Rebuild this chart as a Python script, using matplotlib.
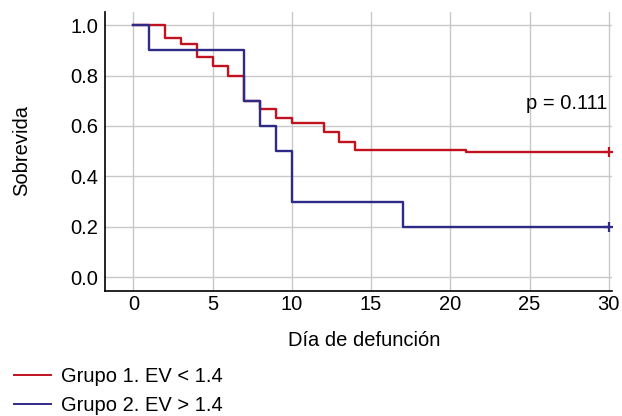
import matplotlib.pyplot as plt
from matplotlib.lines import Line2D

plt.rcParams['font.family'] = ['Liberation Sans', 'DejaVu Sans']

# Kaplan-Meier steps
g1_days = [0, 2, 3, 4, 5, 6, 7, 8, 9, 10, 12, 13, 14, 21, 30]
g1_surv = [1.0, 0.95, 0.925, 0.875, 0.8375, 0.80, 0.70, 0.667, 0.633, 0.613, 0.574, 0.537, 0.505, 0.497, 0.497]
g2_days = [0, 1, 7, 8, 9, 10, 17, 30]
g2_surv = [1.0, 0.90, 0.70, 0.60, 0.50, 0.30, 0.20, 0.20]

x_ticks = [0, 5, 10, 15, 20, 25, 30]
y_ticks = [0.0, 0.2, 0.4, 0.6, 0.8, 1.0]
labels = ['Grupo 1. EV < 1.4', 'Grupo 2. EV > 1.4']
red = '#c1121f'
blue = '#2e2a87'
fs = 14.5

fig = plt.figure(figsize=(6.22, 4.16), dpi=100)
ax = fig.add_axes([0.169, 0.30, 0.815, 0.671])

ax.step(g1_days, g1_surv, where='post', color=red, lw=1.7, zorder=3)
ax.step(g2_days, g2_surv, where='post', color=blue, lw=1.7, zorder=3)
ax.plot(g1_days[-1], g1_surv[-1], marker='+', color=red, ms=7, mew=1.6, zorder=4)
ax.plot(g2_days[-1], g2_surv[-1], marker='+', color=blue, ms=7, mew=1.6, zorder=4)

ax.set_xlim(-1.78, 30.2)
ax.set_ylim(-0.056, 1.052)
ax.set_xticks(x_ticks)
ax.set_yticks(y_ticks)
ax.set_yticklabels(['%.1f' % v for v in y_ticks])
ax.grid(True, color='#c8c8c8', lw=1.0)
ax.set_axisbelow(True)
ax.tick_params(axis='y', length=0, labelsize=fs, pad=5)
ax.tick_params(axis='x', length=0, labelsize=fs, pad=3)
for s in ['top', 'right']:
    ax.spines[s].set_visible(False)
for s in ['left', 'bottom']:
    ax.spines[s].set_linewidth(1.2)

ax.set_xlabel('Día de defunción', fontsize=fs, va='center')
ax.xaxis.set_label_coords(0.511, -0.176)
ax.set_ylabel('Sobrevida', fontsize=fs, va='center')
ax.yaxis.set_label_coords(-0.164, 0.505)
ax.text(29.9, 0.69, 'p = 0.111', fontsize=fs, ha='right', va='center')

handles = [Line2D([], [], color=red, lw=1.4), Line2D([], [], color=blue, lw=1.4)]
fig.legend(handles, labels, loc='upper left', bbox_to_anchor=(0.023, 0.118),
           frameon=False, fontsize=fs, handlelength=1.8, labelspacing=0.5,
           handletextpad=0.5, borderpad=0.0, borderaxespad=0.0)

fig.savefig('out.png', dpi=100)
